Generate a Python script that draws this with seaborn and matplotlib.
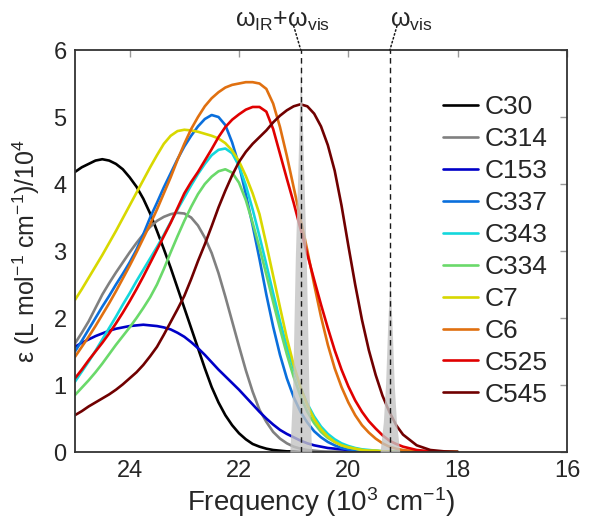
import numpy as np
import pandas as pd
import seaborn as sns
import matplotlib
matplotlib.use("Agg")
import matplotlib.pyplot as plt

sns.set_theme(style="white")
plt.rcParams['font.family'] = ['Liberation Sans', 'DejaVu Sans']
plt.rcParams['mathtext.fontset'] = 'custom'
plt.rcParams['mathtext.rm'] = 'Liberation Sans'
plt.rcParams['mathtext.it'] = 'Liberation Sans:italic'
plt.rcParams['mathtext.default'] = 'regular'

# frequency grid (10^3 cm-1)
freq = [25, 24.875, 24.75, 24.625, 24.5, 24.375, 24.25, 24.125, 24, 23.875, 23.75,
        23.625, 23.5, 23.375, 23.25, 23.125, 23, 22.875, 22.75, 22.625, 22.5, 22.375,
        22.25, 22.125, 22, 21.875, 21.75, 21.625, 21.5, 21.375, 21.25, 21.125, 21,
        20.875, 20.75, 20.625, 20.5, 20.375, 20.25, 20.125, 20, 19.875, 19.75, 19.625,
        19.5, 19.375, 19.25, 19.125, 19, 18.75, 18.5, 18.25, 18]

c30 = [4.18, 4.25, 4.3, 4.35, 4.37, 4.35, 4.3, 4.22, 4.1, 3.96, 3.78, 3.56, 3.3, 3.03,
       2.75, 2.45, 2.15, 1.85, 1.55, 1.25, 0.97, 0.74, 0.55, 0.4, 0.28, 0.19, 0.12, 0.08,
       0.05, 0.03, 0.02, 0.01, 0.01, 0, 0, 0, 0, 0, 0, 0, 0, 0, 0, 0, 0, 0, 0, 0, 0, 0, 0, 0, 0]
c314 = [1.62, 1.78, 1.95, 2.15, 2.35, 2.52, 2.68, 2.83, 2.98, 3.12, 3.25, 3.36, 3.45, 3.51,
        3.55, 3.57, 3.56, 3.5, 3.38, 3.2, 2.97, 2.67, 2.32, 1.95, 1.58, 1.22, 0.9, 0.63,
        0.45, 0.3, 0.2, 0.13, 0.08, 0.05, 0.03, 0.02, 0.01, 0, 0, 0, 0, 0, 0, 0, 0, 0, 0,
        0, 0, 0, 0, 0, 0]
c153 = [1.57, 1.63, 1.68, 1.73, 1.77, 1.81, 1.84, 1.86, 1.88, 1.89, 1.9, 1.89, 1.88, 1.86,
        1.83, 1.78, 1.72, 1.64, 1.55, 1.45, 1.34, 1.23, 1.13, 1.03, 0.93, 0.82, 0.71, 0.6,
        0.5, 0.41, 0.33, 0.27, 0.22, 0.17, 0.13, 0.1, 0.08, 0.06, 0.05, 0.04, 0.03, 0.025,
        0.02, 0.015, 0.01, 0.01, 0.005, 0, 0, 0, 0, 0, 0]
c337 = [1.5, 1.66, 1.83, 2.0, 2.17, 2.33, 2.5, 2.66, 2.83, 3.02, 3.25, 3.5, 3.72, 3.95,
        4.16, 4.37, 4.56, 4.72, 4.86, 4.97, 5.03, 5.0, 4.88, 4.62, 4.28, 3.85, 3.38, 2.88,
        2.35, 1.87, 1.45, 1.1, 0.82, 0.6, 0.44, 0.31, 0.22, 0.15, 0.1, 0.06, 0.04, 0.03,
        0.02, 0.01, 0.01, 0, 0, 0, 0, 0, 0, 0, 0]
c343 = [1.05, 1.2, 1.35, 1.51, 1.68, 1.85, 2.02, 2.2, 2.37, 2.55, 2.72, 2.89, 3.06, 3.24,
        3.43, 3.62, 3.8, 3.98, 4.15, 4.3, 4.43, 4.51, 4.53, 4.46, 4.27, 3.98, 3.62, 3.22,
        2.8, 2.37, 1.95, 1.57, 1.24, 0.96, 0.72, 0.53, 0.38, 0.27, 0.19, 0.13, 0.09, 0.06,
        0.04, 0.03, 0.02, 0.01, 0.01, 0, 0, 0, 0, 0, 0]
c334 = [0.85, 0.96, 1.07, 1.19, 1.32, 1.46, 1.6, 1.73, 1.86, 2.0, 2.15, 2.31, 2.5, 2.73,
        2.98, 3.22, 3.45, 3.66, 3.85, 4.0, 4.11, 4.19, 4.22, 4.17, 4.02, 3.76, 3.42, 3.05,
        2.65, 2.24, 1.84, 1.46, 1.12, 0.83, 0.6, 0.43, 0.3, 0.21, 0.15, 0.1, 0.07, 0.05,
        0.03, 0.02, 0.02, 0.01, 0.01, 0, 0, 0, 0, 0, 0]
c7 = [2.27, 2.43, 2.6, 2.77, 2.94, 3.12, 3.3, 3.49, 3.68, 3.87, 4.06, 4.25, 4.43, 4.6,
      4.72, 4.79, 4.81, 4.8, 4.78, 4.75, 4.72, 4.68, 4.61, 4.5, 4.34, 4.12, 3.86, 3.55,
      3.1, 2.63, 2.16, 1.7, 1.3, 0.97, 0.7, 0.49, 0.34, 0.23, 0.15, 0.1, 0.07, 0.05,
      0.03, 0.02, 0.02, 0.01, 0.01, 0, 0, 0, 0, 0, 0]
c6 = [1.42, 1.57, 1.72, 1.88, 2.05, 2.22, 2.4, 2.59, 2.78, 2.98, 3.19, 3.4, 3.62, 3.86,
      4.1, 4.36, 4.6, 4.82, 5.0, 5.16, 5.28, 5.37, 5.44, 5.48, 5.5, 5.52, 5.52, 5.5,
      5.42, 5.2, 4.85, 4.42, 3.95, 3.48, 3.01, 2.5, 2.02, 1.6, 1.25, 0.97, 0.74, 0.55,
      0.4, 0.29, 0.2, 0.13, 0.08, 0.05, 0.03, 0.01, 0, 0, 0]
c525 = [1.1, 1.23, 1.37, 1.5, 1.63, 1.77, 1.92, 2.08, 2.25, 2.43, 2.62, 2.82, 3.02, 3.22,
        3.42, 3.64, 3.86, 4.03, 4.18, 4.35, 4.52, 4.7, 4.85, 4.96, 5.04, 5.11, 5.15, 5.15,
        5.08, 4.82, 4.45, 4.08, 3.72, 3.33, 2.95, 2.57, 2.2, 1.85, 1.52, 1.23, 0.98, 0.77,
        0.6, 0.46, 0.35, 0.25, 0.17, 0.12, 0.08, 0.03, 0.01, 0, 0]
c545 = [0.55, 0.61, 0.68, 0.74, 0.8, 0.86, 0.93, 1.01, 1.1, 1.19, 1.3, 1.43, 1.57, 1.75,
        1.94, 2.13, 2.33, 2.58, 2.85, 3.1, 3.37, 3.65, 3.9, 4.13, 4.33, 4.48, 4.6, 4.7,
        4.8, 4.92, 5.02, 5.1, 5.16, 5.19, 5.16, 5.05, 4.86, 4.58, 4.2, 3.68, 3.08, 2.5,
        1.97, 1.52, 1.15, 0.84, 0.6, 0.4, 0.26, 0.1, 0.03, 0.01, 0]

dyes = ['C30', 'C314', 'C153', 'C337', 'C343', 'C334', 'C7', 'C6', 'C525', 'C545']
spectra = [c30, c314, c153, c337, c343, c334, c7, c6, c525, c545]
colors = ['#000000', '#808080', '#0000c8', '#0a6fdc', '#14d7dc', '#6ad96a',
          '#d8d800', '#e07010', '#e00000', '#700000']

# laser pulse spectra (grey)
sfg_freq = [21.07, 21.02, 20.97, 20.92, 20.87, 20.82, 20.77, 20.72, 20.67]
sfg_int = [0, 0.9, 2.9, 4.3, 5.9, 4.3, 2.9, 0.9, 0]
vis_freq = [19.42, 19.36, 19.32, 19.28, 19.24, 19.20, 19.16, 19.12, 19.06]
vis_int = [0, 0.45, 1.0, 1.9, 2.6, 1.9, 1.0, 0.45, 0]
w_sfg = 20.87
w_vis = 19.24

df = pd.concat([pd.DataFrame({'freq': freq, 'eps': s, 'dye': d})
                for d, s in zip(dyes, spectra)])

fig = plt.figure(figsize=(5.95, 5.21), dpi=100)
ax = fig.add_axes([0.126, 0.1324, 0.827, 0.7716])

sns.lineplot(data=df, x='freq', y='eps', hue='dye', hue_order=dyes,
             palette=dict(zip(dyes, colors)), linewidth=1.9, ax=ax)

ax.fill_between(sfg_freq, sfg_int, color='#c4c4c4', alpha=0.8, lw=0, zorder=5)
ax.fill_between(vis_freq, vis_int, color='#c4c4c4', alpha=0.8, lw=0, zorder=5)
for w in [w_sfg, w_vis]:
    ax.plot([w, w], [0, 6], color='k', ls='--', lw=1, dashes=(4, 3), zorder=6)

ax.annotate('', xy=(w_sfg, 6), xytext=(21.0, 6.36), annotation_clip=False,
            arrowprops=dict(arrowstyle='-', ls=':', lw=1.1, color='k',
                            shrinkA=0, shrinkB=0))
ax.annotate('', xy=(w_vis, 6), xytext=(19.11, 6.36), annotation_clip=False,
            arrowprops=dict(arrowstyle='-', ls=':', lw=1.1, color='k',
                            shrinkA=0, shrinkB=0))
ax.text(21.2, 6.25, r'$\omega_{IR}$+$\omega_{vis}$', fontsize=18,
        ha='center', va='bottom')
ax.text(18.85, 6.25, r'$\omega_{vis}$', fontsize=18, ha='center', va='bottom')

ax.set_xlim(25, 16)
ax.set_ylim(0, 6)
ax.set_xticks([24, 22, 20, 18, 16])
ax.set_yticks([0, 1, 2, 3, 4, 5, 6])
ax.set_xlabel('Frequency (10$^3$ cm$^{-1}$)', fontsize=20, labelpad=2)
ax.set_ylabel('ε (L mol$^{-1}$ cm$^{-1}$)/10$^4$', fontsize=18, labelpad=8)
ax.tick_params(direction='in', top=True, right=True, length=5, width=1,
               color='#999999', labelsize=17, pad=6)
for sp in ax.spines.values():
    sp.set_color('#333333')
    sp.set_linewidth(1.3)

handles, labels = ax.get_legend_handles_labels()
ax.legend(handles, labels, loc='upper left', bbox_to_anchor=(0.744, 0.817),
          bbox_transform=fig.transFigure, frameon=False, fontsize=19,
          handlelength=1.35, handletextpad=0.25, labelspacing=0.3,
          borderpad=0, borderaxespad=0)

fig.savefig('out.png', dpi=100)
